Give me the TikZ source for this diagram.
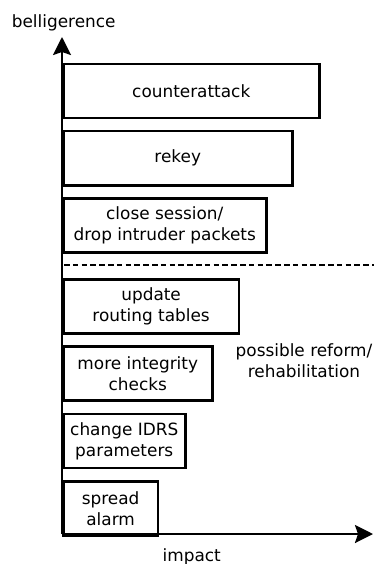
\documentclass[tikz,border=0pt]{standalone}
\usepackage{fontspec}
\setmainfont{DejaVu Sans}
\usetikzlibrary{arrows.meta}

\tikzset{
  axis/.style={line width=2.5pt, -{Stealth[length=18pt,width=18pt,inset=3pt]}},
  action/.style={draw, line width=2.5pt, rectangle, anchor=north west,
    minimum height=54pt, inner sep=1pt, align=center,
    font=\fontsize{16.9}{21}\selectfont},
  lbl/.style={inner sep=0pt, align=center, font=\fontsize{16.9}{21}\selectfont},
  border/.style={line width=2.2pt, dash pattern=on 5.5pt off 3.3pt},
}

\begin{document}
\begin{tikzpicture}[x=1pt, y=-1pt]
  \useasboundingbox (0,0) rectangle (374,564);

  % responses, ordered from mild (bottom) to belligerent (top)
  \node[action, minimum width=256pt] (ca)  at (62,62.7)  {counterattack};
  \node[action, minimum width=229pt] (rk)  at (62,130)   {rekey};
  \node[action, minimum width=203pt] (cs)  at (62,197.3) {close session/\\drop intruder packets};
  \node[action, minimum width=175.7pt] (rt) at (62,278.3) {update\\routing tables};
  \node[action, minimum width=149pt] (ic)  at (62,345)   {more integrity\\checks};
  \node[action, minimum width=122pt] (id)  at (62,412.7) {change IDRS\\parameters};
  \node[action, minimum width=94.7pt] (sa) at (62,480)   {spread\\alarm};

  % threshold between reversible and irreversible responses
  \coordinate (dl) at (64,265);
  \coordinate (dr) at (374,265);
  \draw[border] (dl) -- (dr);

  \node[lbl] (reform) at (304,361) {possible reform/\\rehabilitation};

  % axes
  \coordinate (O) at (62,534);
  \coordinate (ytip) at (62,37);
  \coordinate (xtip) at (373,534);
  \draw[axis] (O) -- (ytip);
  \draw[axis] (O) -- (xtip);

  \node[lbl] (ylab) at (63.7,23) {belligerence};
  \node[lbl] (xlab) at (191.7,556.5) {impact};
\end{tikzpicture}
\end{document}
